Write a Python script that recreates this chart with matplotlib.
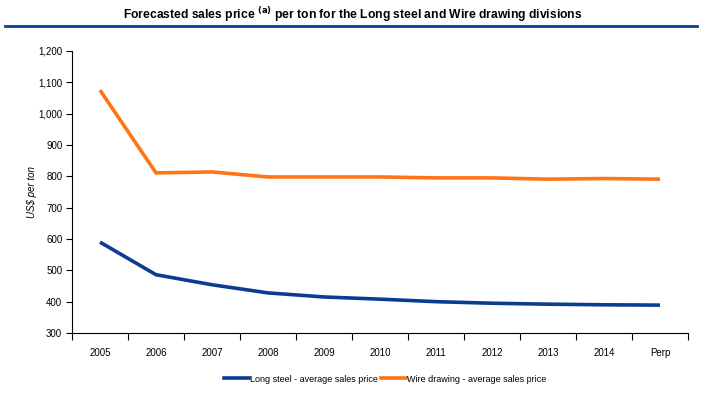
import numpy as np
import matplotlib.pyplot as plt
from matplotlib.lines import Line2D

plt.rcParams['font.family'] = ['Liberation Sans', 'DejaVu Sans']

years = ['2005', '2006', '2007', '2008', '2009', '2010', '2011', '2012', '2013', '2014', 'Perp']
long_steel = [590, 486, 454, 428, 415, 408, 400, 395, 392, 390, 389]
wire_drawing = [1075, 811, 814, 798, 798, 798, 795, 795, 791, 793, 791]

blue = '#0a3d91'
orange = '#ff7417'

fig = plt.figure(figsize=(7.05, 3.97), dpi=100)
ax = fig.add_axes([72 / 705, 1 - 333 / 397, 616 / 705, 282 / 397])

x = np.arange(len(years))
ax.plot(x, long_steel, color=blue, lw=2.6, solid_capstyle='butt')
ax.plot(x, wire_drawing, color=orange, lw=2.6, solid_capstyle='butt')

ax.set_xlim(-0.5, len(years) - 0.5)
ax.set_ylim(300, 1200)
ax.set_yticks(range(300, 1201, 100))
ax.set_yticklabels([f'{v:,}' for v in range(300, 1201, 100)], fontsize=7)
ax.set_xticks(x)
ax.set_xticklabels(years, fontsize=7)
ax.set_xticks(np.arange(-0.5, len(years)), minor=True)
ax.tick_params(axis='x', which='major', length=0, pad=11)
ax.tick_params(axis='x', which='minor', length=5, width=0.8, direction='out')
ax.tick_params(axis='y', length=4, width=0.8, direction='out', pad=3)
for s in ['top', 'right']:
    ax.spines[s].set_visible(False)
for s in ['left', 'bottom']:
    ax.spines[s].set_linewidth(0.8)

ax.set_ylabel('US$ per ton', fontsize=7, style='italic', labelpad=1)

fig.text(0.5, 1 - 15 / 397, 'Forecasted sales price $^{\\mathbf{(a)}}$ per ton for the Long steel and Wire drawing divisions',
         ha='center', va='center', fontsize=8.7, fontweight='bold')
fig.add_artist(Line2D([5 / 705, 697 / 705], [1 - 26 / 397, 1 - 26 / 397], color=blue, lw=2))

handles = [Line2D([], [], color=blue, lw=2.6), Line2D([], [], color=orange, lw=2.6)]
fig.legend(handles, ['Long steel - average sales price', 'Wire drawing - average sales price'],
           loc='center', bbox_to_anchor=(385 / 705, 1 - 379 / 397), ncol=2, frameon=False,
           fontsize=6.5, handlelength=2.8, handletextpad=0.1, columnspacing=0.3)

fig.savefig('out.png', dpi=100)
